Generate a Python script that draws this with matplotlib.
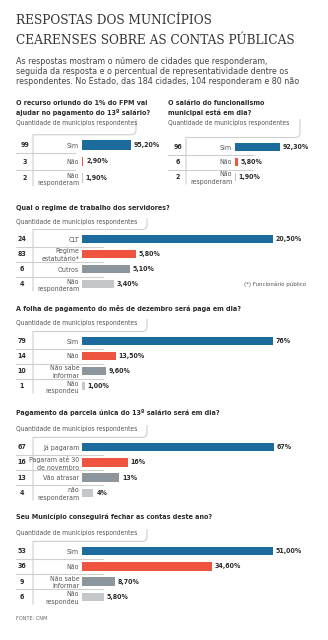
import matplotlib
matplotlib.use("Agg")
import matplotlib.pyplot as plt
import matplotlib.transforms as mtransforms
from matplotlib.path import Path
from matplotlib.patches import PathPatch

# dados
q1_title = "O recurso oriundo do 1% do FPM vai\najudar no pagamento do 13º salário?"
q1_labels = ["Sim", "Não", "Não\nresponderam"]
q1_counts = [99, 3, 2]
q1_values = [95.2, 2.9, 1.9]
q1_pct = ["95,20%", "2,90%", "1,90%"]

q2_title = "O salário do funcionalismo\nmunicipal está em dia?"
q2_labels = ["Sim", "Não", "Não\nresponderam"]
q2_counts = [96, 6, 2]
q2_values = [92.3, 5.8, 1.9]
q2_pct = ["92,30%", "5,80%", "1,90%"]

q3_title = "Qual o regime de trabalho dos servidores?"
q3_labels = ["CLT", "Regime\nestatutário*", "Outros", "Não\nresponderam"]
q3_counts = [24, 83, 6, 4]
q3_values = [20.5, 5.8, 5.1, 3.4]
q3_pct = ["20,50%", "5,80%", "5,10%", "3,40%"]

q4_title = "A folha de pagamento do mês de dezembro será paga em dia?"
q4_labels = ["Sim", "Não", "Não sabe\ninformar", "Não\nrespondeu"]
q4_counts = [79, 14, 10, 1]
q4_values = [76, 13.5, 9.6, 1.0]
q4_pct = ["76%", "13,50%", "9,60%", "1,00%"]

q5_title = "Pagamento da parcela única do 13º salário será em dia?"
q5_labels = ["Já pagaram", "Pagaram até 30\nde novembro", "Vão atrasar", "não\nresponderam"]
q5_counts = [67, 16, 13, 4]
q5_values = [67, 16, 13, 4]
q5_pct = ["67%", "16%", "13%", "4%"]

q6_title = "Seu Município conseguirá fechar as contas deste ano?"
q6_labels = ["Sim", "Não", "Não sabe\ninformar", "Não\nrespondeu"]
q6_counts = [53, 36, 9, 6]
q6_values = [51.0, 34.6, 8.7, 5.8]
q6_pct = ["51,00%", "34,60%", "8,70%", "5,80%"]

BLUE = "#1b6c9c"
RED = "#ee5540"
GRAY = "#8d959d"
LGRAY = "#c3c7ca"
DARK = "#2b2b2b"
MID = "#555555"
LINE = "#cfcfcf"

SANS = dict(family="DejaVu Sans", fontstretch="condensed")

W, H = 328, 640
fig = plt.figure(figsize=(W / 100, H / 100), dpi=100)
fig.patch.set_facecolor("white")
bg = fig.add_axes([0, 0, 1, 1])
bg.set_xlim(0, W)
bg.set_ylim(H, 0)
bg.axis("off")


def lines(x, y, txt, step, **kw):
    for k, t in enumerate(txt.split("\n")):
        bg.text(x, y + k * step, t, va="center", **kw)


lines(16, 20, "RESPOSTAS DOS MUNICÍPIOS\nCEARENSES SOBRE AS CONTAS PÚBLICAS", 20,
      family="DejaVu Serif", fontstretch="condensed", fontsize=9.7, color="#353535")
lines(16, 62, "As respostas mostram o número de cidades que responderam,\n"
      "seguida da resposta e o percentual de representatividade dentre os\n"
      "respondentes. No Estado, das 184 cidades, 104 responderam e 80 não", 9.7,
      fontsize=6.4, color="#444444", **SANS)


def panel(x0, title_y, qty_y, row0, step, bar_left, bar_w, num_x, sep_r, vx, box_r,
          title, labels, counts, values, pct):
    n = len(labels)
    lines(x0, title_y, title, 10, fontweight="bold", fontsize=5.1, color=DARK, **SANS)
    bg.text(x0, qty_y, "Quantidade de municípios respondentes", fontsize=4.8,
            color=MID, va="center", **SANS)

    top = row0 - step / 2
    ax = fig.add_axes([bar_left / W, 1 - (top + n * step) / H, bar_w / W, n * step / H])
    ax.set_xlim(0, max(values))
    ax.set_ylim(n - 0.5, -0.5)
    for s in ax.spines.values():
        s.set_visible(False)
    ax.set_xticks([])
    ax.set_facecolor("none")
    colors = [BLUE, RED, GRAY, LGRAY] if n == 4 else [BLUE, RED, LGRAY]
    ax.barh(range(n), values, height=0.55, color=colors, zorder=3)
    ax.set_yticks(range(n))
    ax.set_yticklabels(labels, fontsize=5.0, color=MID, linespacing=1.25, **SANS)
    ax.tick_params(axis="y", length=0, pad=2)

    tr = mtransforms.blended_transform_factory(bg.transData, ax.transData)
    for i in range(n):
        ax.text(num_x, i, str(counts[i]), transform=tr, fontweight="bold",
                fontsize=5.0, color=DARK, ha="center", va="center", **SANS)
        ax.annotate(pct[i], (values[i], i), xytext=(2, 0), textcoords="offset points",
                    fontweight="bold", fontsize=5.0, color=DARK, va="center",
                    annotation_clip=False, **SANS)
        if i < n - 1:
            ax.plot([x0, sep_r], [i + 0.5, i + 0.5], transform=tr, color=LINE,
                    lw=0.8, clip_on=False, zorder=1)

    # moldura da legenda "Quantidade..."
    ly = top - 2
    bottom = top + n * step
    r = 5
    verts = [(box_r, qty_y - 4), (box_r, ly - r), (box_r, ly), (box_r - r, ly),
             (vx, ly), (vx, bottom)]
    codes = [Path.MOVETO, Path.LINETO, Path.CURVE3, Path.CURVE3, Path.LINETO, Path.LINETO]
    bg.add_patch(PathPatch(Path(verts, codes), fill=False, edgecolor=LINE, lw=0.8))
    return ax


panel(16, 103, 123, 145, 16.5, 82, 49, 25, 75, 33, 136,
      q1_title, q1_labels, q1_counts, q1_values, q1_pct)
panel(168, 103, 123, 147, 15, 235, 45, 178, 253, 186, 300,
      q2_title, q2_labels, q2_counts, q2_values, q2_pct)
panel(16, 208, 222, 239, 15, 82, 191, 22, 103, 33, 147,
      q3_title, q3_labels, q3_counts, q3_values, q3_pct)
panel(16, 309, 323, 341, 15, 82, 191, 22, 103, 33, 147,
      q4_title, q4_labels, q4_counts, q4_values, q4_pct)
panel(16, 412, 429, 447, 15.3, 82, 192, 22, 103, 33, 147,
      q5_title, q5_labels, q5_counts, q5_values, q5_pct)
panel(16, 517, 533, 551, 15.3, 82, 191, 22, 103, 33, 147,
      q6_title, q6_labels, q6_counts, q6_values, q6_pct)

bg.text(306, 284, "(*) Funcionário público", fontsize=4.4, color=MID,
        ha="right", va="center", **SANS)
bg.text(16, 619, "FONTE: CNM", fontsize=4.0, color="#666666", va="center", **SANS)

fig.savefig("out.png", dpi=100, facecolor="white")
